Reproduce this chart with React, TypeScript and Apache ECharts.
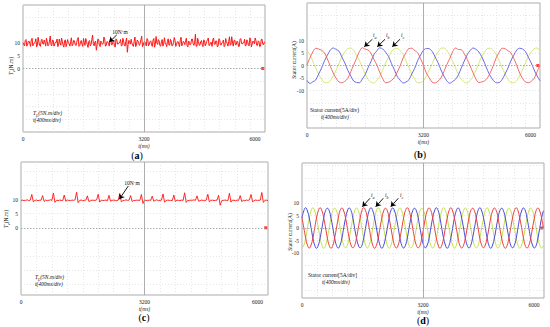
import React, { useEffect, useRef } from "react";
import * as echarts from "echarts";

const SERIF = "Liberation Serif";
const T_MAX = 6400;
const STEP_A = 20;
const STEP_B = 80;
const STEP_C = 40;
const STEP_D = 48;
const xTickLabels = [0, 3200, 6000];
const yLabelsTorque = [10, 5, 0];
const yLabelsCurrent = [10, 5, 0, -5, -10];
const markerT = 6340;

// (a) electromagnetic torque, noisy: samples at even 20 ms slots
const torqueAEven = [
  10.2, 8.9, 11.4, 9.3, 10.8, 8.7, 11.9, 9.6, 10.4, 8.5, 12.3, 9.1, 10.9, 9.8, 11.2, 8.8, 10.6, 9.4, 12.8, 8.9,
  11.1, 9.7, 10.3, 8.6, 11.6, 9.2, 10.7, 8.4, 11.3, 9.9, 10.1, 8.8, 12.1, 9.4, 10.9, 9.0, 11.5, 8.7, 10.4, 9.6,
  11.8, 9.1, 10.6, 8.3, 11.0, 9.5, 13.2, 8.9, 10.8, 9.3, 11.4, 8.6, 10.2, 9.8, 11.7, 9.0, 10.5, 8.8, 12.0, 9.4,
  10.9, 8.5, 11.3, 9.7, 10.3, 8.9, 11.9, 9.2, 10.7, 6.4, 11.1, 9.6, 10.0, 8.7, 12.4, 9.3, 10.8, 9.1, 11.5, 8.6,
  10.4, 9.8, 11.8, 8.9, 10.6, 9.3, 11.2, 8.4, 12.6, 9.5, 10.9, 8.8, 11.4, 9.7, 10.2, 8.6, 11.7, 9.2, 10.8, 9.0,
  12.2, 8.7, 10.5, 9.6, 11.3, 8.9, 10.7, 9.4, 11.9, 8.5, 10.3, 9.9, 11.6, 9.1, 13.5, 8.8, 10.6, 9.3, 11.0, 8.6,
  10.9, 9.7, 11.4, 9.0, 10.2, 8.7, 12.0, 9.5, 10.8, 8.9, 11.5, 9.2, 10.4, 8.6, 11.8, 9.8, 10.6, 9.1, 12.5, 8.8,
  11.2, 9.4, 10.5, 8.7, 11.7, 9.6, 10.1, 8.9, 11.3, 9.2, 12.1, 8.5, 10.8, 9.7, 11.0, 9.0, 10.6, 8.8, 11.6, 9.3,
  10.4,
];
// (a) samples at odd 20 ms slots
const torqueAOdd = [
  9.4, 11.0, 8.8, 10.6, 9.9, 11.3, 8.9, 10.1, 11.7, 9.2, 10.5, 8.7, 11.5, 9.6, 10.2, 11.9, 8.9, 10.8, 9.5, 11.2,
  8.8, 10.4, 11.6, 9.1, 10.0, 12.0, 9.3, 10.9, 8.6, 11.4, 9.7, 10.6, 8.9, 11.1, 9.5, 10.3, 12.2, 9.0, 11.0, 8.7,
  10.2, 11.8, 9.4, 10.7, 8.9, 11.3, 9.8, 10.4, 7.2, 11.6, 9.1, 10.8, 9.5, 12.4, 8.8, 10.6, 9.9, 11.1, 9.3, 10.5,
  8.7, 11.7, 9.6, 10.2, 11.4, 9.0, 10.8, 8.8, 12.0, 9.4, 10.3, 11.5, 9.1, 10.7, 8.6, 11.2, 9.8, 10.0, 12.7, 9.2,
  10.6, 8.9, 11.3, 9.5, 10.9, 8.7, 11.8, 9.7, 10.1, 11.4, 9.0, 10.5, 8.8, 12.1, 9.6, 10.7, 9.2, 11.5, 8.9, 10.3,
  11.1, 9.4, 10.6, 8.6, 12.3, 9.8, 10.2, 11.0, 8.9, 10.8, 9.3, 11.6, 9.7, 10.4, 8.7, 11.9, 9.1, 10.6, 9.5, 11.3,
  8.9, 10.7, 12.0, 9.2, 10.3, 11.4, 9.6, 10.9, 8.5, 11.7, 9.4, 10.1, 11.2, 9.0, 10.6, 8.8, 12.5, 9.5, 10.4, 11.0,
  9.3, 10.8, 8.7, 11.6, 9.9, 10.2, 11.5, 9.1, 10.7, 8.9, 11.3, 9.6, 10.5, 12.0, 9.2, 10.9, 8.6, 11.4, 9.7, 10.3,
];

// (c) electromagnetic torque, smooth with periodic spikes
const torqueC = [
  9.7, 9.8, 9.6, 9.7, 9.9, 9.6, 9.8,
  11.8, 9.2, 9.7, 9.8, 9.6, 9.7, 9.8,
  11.4, 9.3, 9.8, 9.6, 9.7, 9.9, 9.7,
  12.3, 9.0, 9.7, 9.6, 9.8, 9.7, 9.6,
  11.6, 9.4, 9.8, 9.7, 9.6, 9.8, 9.7, 9.9,
  12.6, 8.9, 9.7, 9.8, 9.6, 9.7, 9.8,
  11.3, 9.3, 9.6, 9.8, 9.7, 9.7, 9.9,
  11.9, 9.1, 9.8, 9.6, 9.7, 9.8, 9.6,
  11.5, 9.4, 9.7, 9.8, 9.7, 9.6, 9.8,
  12.1, 9.2, 9.6, 9.7, 9.9, 9.7, 9.8,
  11.4, 9.3, 9.7, 9.6, 9.8, 9.7, 9.7,
  11.8, 8.6, 9.8, 9.7, 9.6, 9.8, 9.7,
  11.2, 9.4, 9.7, 9.9, 9.6, 9.7, 9.8,
  12.0, 9.1, 9.6, 9.8, 9.7, 9.7, 9.6,
  11.6, 9.3, 9.8, 9.7, 9.6, 9.8, 9.7,
  12.4, 9.0, 9.7, 9.6, 9.8, 9.7, 9.9, 9.7,
  11.3, 9.4, 9.6, 9.8, 9.7, 9.6, 9.8,
  11.9, 9.2, 9.7, 9.8, 9.6, 9.7, 9.8,
  11.5, 8.0, 9.6, 9.7, 9.8, 9.7, 9.6,
  12.2, 9.1, 9.8, 9.7, 9.6, 9.8, 9.7,
  11.4, 9.3, 9.7, 9.6, 9.8, 9.7, 9.9,
  11.8, 9.2, 9.6, 9.8, 9.7, 9.7, 9.8,
  12.5, 9.0, 9.7, 9.8, 9.6,
];

// (b) stator currents (A)
const redB = [
  0.2, 3.1, 5.4, 6.9, 6.6, 6.1, 5.0, 2.6, -0.3, -3.0, -5.1, -6.6, -6.9, -6.3, -5.2, -2.5,
  0.1, 2.9, 5.6, 7.1, 6.5, 6.2, 4.8, 2.4, 0.2, -2.8, -5.3, -6.9, -6.7, -6.0, -4.8, -2.6,
  -0.1, 3.0, 5.2, 6.8, 6.9, 6.0, 5.1, 2.7, 0.0, -3.1, -5.0, -6.7, -7.0, -6.2, -5.0, -2.4,
  0.3, 2.8, 5.5, 7.0, 6.4, 6.3, 4.7, 2.5, -0.2, -2.9, -5.4, -6.8, -6.6, -6.1, -4.9, -2.7,
  0.0, 3.2, 5.3, 6.9, 6.7, 5.9, 5.0, 2.8, 0.1, -3.0, -5.2, -6.6, -6.9, -6.3, -5.1, -2.5,
  0.2,
];
const blueB = [
  -6.0, -7.2, -6.5, -5.8, -3.4, -1.0, 1.9, 4.1, 6.2, 7.0, 6.4, 5.7, 3.3, 1.0, -1.9, -4.1,
  -6.2, -6.8, -6.9, -5.4, -3.6, -0.8, 1.7, 4.4, 5.9, 7.1, 6.6, 5.3, 3.6, 0.8, -1.7, -4.4,
  -5.9, -7.0, -6.6, -5.7, -3.3, -1.1, 2.0, 4.2, 6.1, 6.8, 6.7, 5.6, 3.4, 1.1, -1.8, -4.2,
  -6.1, -7.1, -6.4, -5.5, -3.7, -0.9, 1.8, 4.3, 6.0, 7.0, 6.5, 5.4, 3.5, 0.9, -2.0, -4.3,
  -6.0, -6.9, -6.8, -5.6, -3.4, -1.0, 1.9, 4.1, 6.2, 6.9, 6.6, 5.6, 3.3, 1.0, -1.8, -4.2,
  -6.1,
];
const yellowB = [
  6.0, 4.3, 1.7, -1.0, -3.6, -5.4, -6.8, -6.9, -6.1, -4.2, -1.9, 0.9, 3.6, 5.5, 6.8, 7.0,
  6.1, 4.1, 1.9, -0.8, -3.4, -5.6, -6.7, -7.0, -5.9, -4.3, -1.7, 1.0, 3.4, 5.6, 6.7, 6.9,
  5.9, 4.4, 1.8, -0.9, -3.5, -5.5, -6.9, -6.8, -6.1, -4.1, -1.8, 0.8, 3.5, 5.4, 6.9, 7.0,
  6.1, 4.2, 1.7, -1.0, -3.6, -5.5, -6.7, -7.0, -6.0, -4.3, -1.9, 0.9, 3.6, 5.5, 6.8, 6.9,
  6.0, 4.3, 1.8, -0.9, -3.4, -5.6, -6.8, -6.9, -6.1, -4.2, -1.8, 1.0, 3.5, 5.5, 6.7, 7.0,
  6.0,
];

// (d) stator currents (A)
const redD = [
  4.1, 0.1, -3.9, -6.9, -8.0, -6.8, -4.0, 0.1, 4.0, 6.9, 8.1, 6.9,
  3.9, 0.0, -4.1, -7.0, -8.1, -6.9, -3.9, 0.0, 4.1, 7.0, 8.0, 6.8,
  4.0, -0.1, -4.0, -6.8, -7.9, -7.0, -4.1, -0.1, 3.9, 6.9, 8.1, 7.0,
  4.1, 0.1, -3.9, -6.9, -8.1, -6.9, -4.0, 0.1, 4.0, 6.8, 7.9, 6.9,
  3.9, 0.0, -4.0, -7.0, -8.0, -6.8, -3.9, 0.0, 4.1, 7.0, 8.1, 6.9,
  4.0, -0.1, -4.1, -6.9, -7.9, -7.0, -4.0, -0.1, 4.0, 6.9, 8.0, 7.0,
  4.1, 0.0, -3.9, -6.8, -8.1, -6.9, -4.1, 0.1, 3.9, 6.9, 8.1, 6.8,
  3.9, 0.1, -4.0, -7.0, -8.0, -6.9, -4.0, 0.0, 4.0, 7.0, 7.9, 6.9,
  4.0, 0.0, -4.1, -6.9, -7.9, -6.8, -3.9, -0.1, 4.1, 6.8, 8.0, 7.0,
  4.1, -0.1, -4.0, -6.9, -8.1, -7.0, -4.0, 0.1, 4.0, 6.9, 8.1, 6.9,
  3.9, 0.1, -3.9, -7.0, -8.0, -6.9, -4.1, 0.0, 3.9, 7.0, 8.0, 6.8,
  4.0, 0.0,
];
const blueD = [
  4.0, 6.9, 8.1, 6.8, 4.0, 0.1, -4.0, -6.9, -8.1, -6.9, -3.9, 0.0,
  4.1, 7.0, 7.9, 6.9, 3.9, 0.0, -4.1, -7.0, -8.0, -6.8, -4.0, 0.1,
  3.9, 6.8, 8.0, 7.0, 4.1, -0.1, -3.9, -6.8, -7.9, -7.0, -4.1, 0.0,
  4.0, 6.9, 8.1, 6.9, 4.0, 0.0, -4.0, -6.9, -8.1, -6.9, -3.9, -0.1,
  4.1, 7.0, 8.0, 6.8, 3.9, 0.1, -4.1, -7.0, -8.0, -6.9, -4.0, 0.0,
  3.9, 6.9, 7.9, 6.9, 4.1, 0.0, -3.9, -6.9, -7.9, -6.8, -4.1, 0.1,
  4.0, 6.8, 8.1, 7.0, 4.0, -0.1, -4.0, -6.8, -8.1, -7.0, -4.0, 0.0,
  4.1, 6.9, 8.0, 6.9, 3.9, 0.0, -4.1, -6.9, -8.0, -6.9, -3.9, -0.1,
  3.9, 7.0, 8.1, 6.8, 4.1, 0.1, -4.0, -7.0, -8.1, -6.8, -4.0, 0.0,
  4.0, 6.9, 7.9, 6.9, 4.0, 0.0, -3.9, -6.9, -7.9, -6.9, -4.1, 0.1,
  4.1, 6.8, 8.0, 7.0, 3.9, -0.1, -4.1, -6.8, -8.0, -7.0, -4.0, 0.0,
  4.0, 6.9,
];
const yellowD = [
  -8.0, -6.9, -4.1, 0.0, 4.0, 6.9, 8.1, 6.8, 4.0, 0.1, -4.0, -6.9,
  -8.1, -7.0, -3.9, 0.1, 4.1, 7.0, 7.9, 6.9, 3.9, 0.0, -4.1, -7.0,
  -7.9, -6.8, -4.0, -0.1, 3.9, 6.8, 8.0, 7.0, 4.1, -0.1, -3.9, -6.8,
  -8.0, -6.9, -4.1, 0.0, 4.0, 6.9, 8.1, 6.9, 4.0, 0.0, -4.0, -6.9,
  -8.1, -6.9, -3.9, 0.1, 4.1, 7.0, 8.0, 6.8, 3.9, 0.1, -4.1, -7.0,
  -7.9, -7.0, -4.0, 0.0, 3.9, 6.9, 7.9, 6.9, 4.1, 0.0, -3.9, -6.9,
  -8.0, -6.8, -4.1, -0.1, 4.0, 6.8, 8.1, 7.0, 4.0, -0.1, -4.0, -6.8,
  -8.1, -6.9, -3.9, 0.0, 4.1, 6.9, 8.0, 6.9, 3.9, 0.0, -4.1, -6.9,
  -7.9, -7.0, -4.0, 0.1, 3.9, 7.0, 8.1, 6.8, 4.1, 0.1, -4.0, -7.0,
  -8.0, -6.9, -4.1, 0.0, 4.0, 6.9, 7.9, 6.9, 4.0, 0.0, -3.9, -6.9,
  -8.1, -6.8, -3.9, -0.1, 4.1, 6.8, 8.0, 7.0, 3.9, -0.1, -4.1, -6.8,
  -8.0, -6.9,
];

// annotation arrows in data coordinates [x0, y0, x1, y1]
const arrowsA = [[2478, 13.2, 2282, 10.4]];
const arrowsB = [
  [1794, 10.5, 1574, 7.5],
  [2143, 10.5, 1931, 7.5],
  [2555, 10.5, 2343, 7.5],
];
const arrowsC = [[2780, 14.8, 2547, 10.1]];
const arrowsD = [
  [1798, 11.9, 1595, 8.5],
  [2150, 11.9, 1949, 8.5],
  [2547, 11.9, 2346, 8.5],
];

const GRID_LINE = { color: "#d6d6d6", type: [1, 2], width: 0.6 };

const toPts = (arr: number[], step: number) => arr.map((v, i) => [i * step, v]);
const interleave = (even: number[], odd: number[]) => {
  const out: number[] = [];
  even.forEach((v, i) => {
    out.push(v);
    if (i < odd.length) out.push(odd[i]);
  });
  return out;
};

const xAxisCfg = (gi: number, nameGap: number) => ({
  type: "value",
  gridIndex: gi,
  min: 0,
  max: T_MAX,
  interval: 400,
  axisLine: { show: false },
  axisTick: { show: false },
  splitLine: { show: true, lineStyle: GRID_LINE },
  axisLabel: {
    margin: 4,
    fontSize: 5.5,
    fontFamily: SERIF,
    color: "#222",
    showMinLabel: true,
    showMaxLabel: true,
    formatter: (v: number) =>
      v === 6000 ? "{r|6000}" : xTickLabels.includes(v) ? String(v) : "",
    rich: { r: { padding: [0, 0, 0, 10], fontSize: 5.5, fontFamily: SERIF, color: "#222" } },
  },
  name: "t(ms)",
  nameLocation: "middle",
  nameGap,
  nameTextStyle: { fontSize: 5.5, fontStyle: "italic", fontFamily: SERIF, color: "#222" },
});

const yAxisCfg = (gi: number, min: number, max: number, labels: number[], extra: any) => ({
  type: "value",
  gridIndex: gi,
  min,
  max,
  ...extra,
  axisLine: { show: false },
  axisTick: { show: false },
  splitLine: { show: true, lineStyle: GRID_LINE },
  axisLabel: {
    margin: 3,
    fontSize: 5.5,
    fontFamily: SERIF,
    color: "#222",
    showMinLabel: true,
    showMaxLabel: true,
    formatter: (v: number) => (labels.includes(v) ? String(v) : ""),
  },
});

const lineSeries = (gi: number, arr: number[], step: number, color: string, width: number, smooth: any, arrows?: number[][]) => {
  const s: any = {
    type: "line",
    xAxisIndex: gi,
    yAxisIndex: gi,
    data: toPts(arr, step),
    showSymbol: false,
    symbol: "none",
    smooth,
    lineStyle: { color, width },
    z: 3,
    silent: true,
  };
  if (arrows) {
    s.markLine = {
      silent: true,
      symbol: ["none", "arrow"],
      symbolSize: 5,
      label: { show: false },
      lineStyle: { color: "#000", width: 0.9, type: "solid" },
      data: arrows.map((a) => [{ coord: [a[0], a[1]] }, { coord: [a[2], a[3]] }]),
      z: 5,
    };
  }
  return s;
};

const frameSeries = (gi: number) => ({
  type: "scatter",
  xAxisIndex: gi,
  yAxisIndex: gi,
  data: [[markerT, 0]],
  symbol: "rect",
  symbolSize: 3,
  itemStyle: { color: "#ff1010" },
  z: 2,
  silent: true,
  markLine: {
    silent: true,
    symbol: "none",
    label: { show: false },
    data: [
      { xAxis: 3200, lineStyle: { color: "#9c9c9c", type: "solid", width: 0.8 } },
      { yAxis: 0, lineStyle: { color: "#9c9c9c", type: [1.5, 1.5], width: 0.8 } },
    ],
  },
});

const rich = {
  i: { fontFamily: SERIF, fontSize: 5.5, fontStyle: "italic", fill: "#111", lineHeight: 8 },
  n: { fontFamily: SERIF, fontSize: 5.5, fill: "#111", lineHeight: 8 },
  s: { fontFamily: SERIF, fontSize: 4, fontStyle: "italic", fill: "#111", lineHeight: 8, verticalAlign: "bottom" },
  b: { fontFamily: SERIF, fontSize: 10, fontWeight: "bold", fill: "#000", lineHeight: 12 },
  p: { fontFamily: SERIF, fontSize: 10, fill: "#000", lineHeight: 12 },
};

const txt = (x: number, y: number, text: string, align = "left", rotation = 0) => ({
  type: "text",
  x,
  y,
  rotation,
  silent: true,
  z: 10,
  style: {
    text,
    rich,
    fontFamily: SERIF,
    fontSize: 5.5,
    fill: "#111",
    align,
    verticalAlign: "middle",
  },
});

export default function App() {
  const ref = useRef<HTMLDivElement>(null);
  useEffect(() => {
    if (!ref.current) return;
    const chart = echarts.init(ref.current, null, { renderer: "svg" });
    const gridBase = { show: true, borderColor: "#ababab", borderWidth: 1, backgroundColor: "transparent" };
    const torqueA = interleave(torqueAEven, torqueAOdd);
    const option: any = {
      animation: false,
      backgroundColor: "#ffffff",
      grid: [
        { ...gridBase, left: 23, top: 5, width: 242, height: 127 },
        { ...gridBase, left: 307, top: 3, width: 233, height: 125 },
        { ...gridBase, left: 21, top: 162, width: 247, height: 133 },
        { ...gridBase, left: 302, top: 163, width: 242, height: 135 },
      ],
      xAxis: [xAxisCfg(0, 10), xAxisCfg(1, 10), xAxisCfg(2, 10), xAxisCfg(3, 9)],
      yAxis: [
        yAxisCfg(0, -25, 25, yLabelsTorque, { interval: 5 }),
        yAxisCfg(1, -25, 25, yLabelsCurrent, { interval: 5 }),
        yAxisCfg(2, -23.8, 23.3, yLabelsTorque, { splitNumber: 10 }),
        yAxisCfg(3, -28, 26, yLabelsCurrent, { splitNumber: 11 }),
      ],
      series: [
        frameSeries(0),
        lineSeries(0, torqueA, STEP_A, "#ff1414", 1.0, false, arrowsA),
        frameSeries(1),
        lineSeries(1, yellowB, STEP_B, "#d2e46a", 0.9, 0.3),
        lineSeries(1, blueB, STEP_B, "#5a5ae0", 0.9, 0.3),
        lineSeries(1, redB, STEP_B, "#f05a5a", 0.9, 0.3, arrowsB),
        frameSeries(2),
        lineSeries(2, torqueC, STEP_C, "#ff1414", 0.9, false, arrowsC),
        frameSeries(3),
        lineSeries(3, yellowD, STEP_D, "#c2e04e", 1, true),
        lineSeries(3, blueD, STEP_D, "#4848d4", 1, true),
        lineSeries(3, redD, STEP_D, "#f03c3c", 1, true, arrowsD),
      ],
      graphic: [
        // (a)
        txt(11, 66, "{i|T}{s|e}{n|(N.m)}", "center", Math.PI / 2),
        txt(120, 32, "{n|10N·m}", "center"),
        txt(33, 113, "{i|T}{s|L}{i|(5N.m/div)}"),
        txt(33, 120, "{i|t(400ms/div)}"),
        txt(137, 155, "{p|(}{b|a}{p|)}", "center"),
        // (b)
        txt(294, 60, "{n|Stator current(A)}", "center", Math.PI / 2),
        txt(373, 35, "{i|i}{s|a}", "left"),
        txt(386, 35, "{i|i}{s|b}", "left"),
        txt(401, 35, "{i|i}{s|c}", "left"),
        txt(310, 110, "{n|Stator current(5A/div)}"),
        txt(335, 117, "{i|t(400ms/div)}", "center"),
        txt(420, 154, "{p|(}{b|b}{p|)}", "center"),
        // (c)
        txt(6, 219, "{i|T}{s|e}{n|(N.m)}", "center", Math.PI / 2),
        txt(132, 183, "{n|10N·m}", "center"),
        txt(35, 277, "{i|T}{s|L}{i|(5N.m/div)}"),
        txt(35, 284, "{i|t(400ms/div)}"),
        txt(144, 317, "{p|(}{b|c}{p|)}", "center"),
        // (d)
        txt(290, 232, "{n|Stator current(A)}", "center", Math.PI / 2),
        txt(371, 195, "{i|i}{s|a}", "left"),
        txt(385, 195, "{i|i}{s|b}", "left"),
        txt(400, 195, "{i|i}{s|c}", "left"),
        txt(308, 275, "{n|Stator current[5A/div]}"),
        txt(336, 282, "{i|t(400ms/div)}", "center"),
        txt(423, 320, "{p|(}{b|d}{p|)}", "center"),
      ],
    };
    chart.setOption(option);
    return () => chart.dispose();
  }, []);
  return (
    <div
      ref={ref}
      style={{ position: "absolute", left: 0, top: 0, width: 550, height: 327, background: "#fff" }}
    />
  );
}
